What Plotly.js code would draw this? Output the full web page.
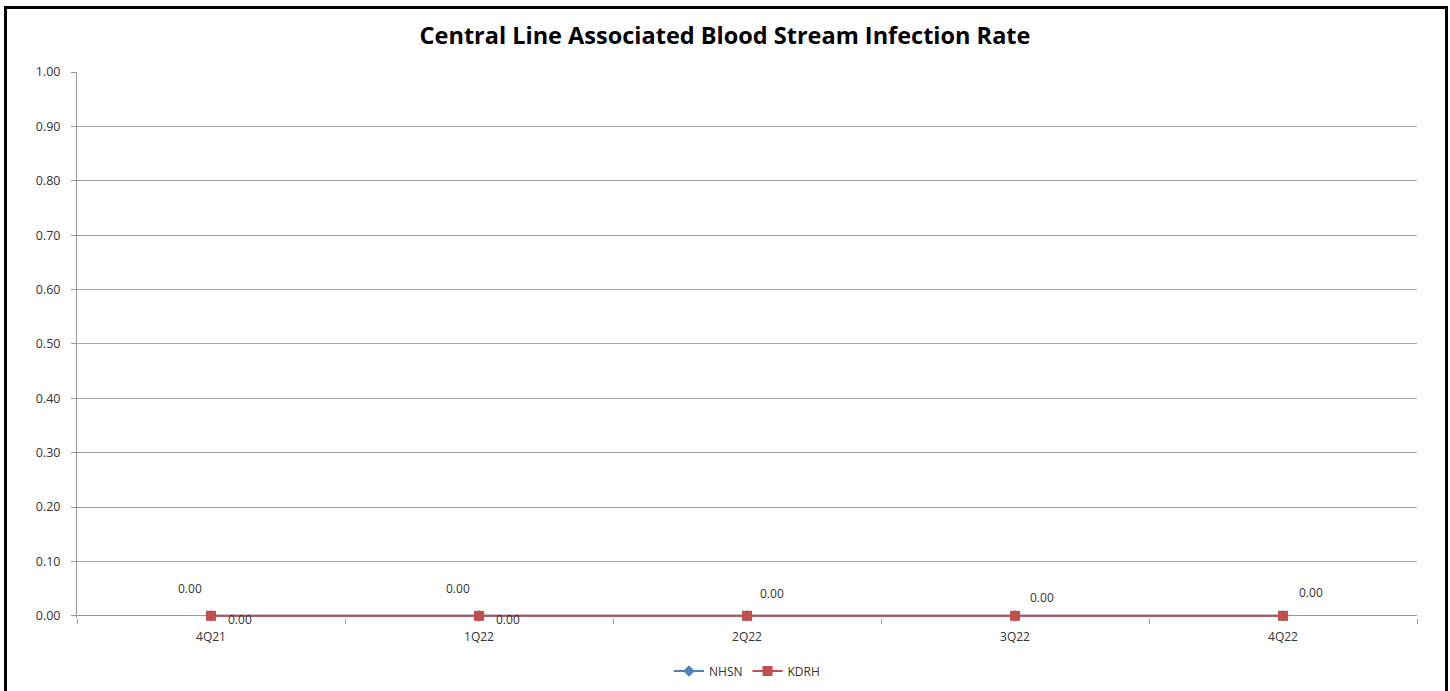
<!DOCTYPE html>
<html><head><meta charset="utf-8">
<script src="https://cdn.plot.ly/plotly-3.0.1.min.js"></script>
<style>
html,body{margin:0;padding:0;background:#fff;}
#wrap{position:relative;width:1450px;height:691px;overflow:hidden;}
#chart{position:absolute;left:0;top:0;width:1450px;height:691px;}
#frame{position:absolute;left:4px;top:6px;width:1438px;height:700px;border:3px solid #000;pointer-events:none;}
</style></head>
<body><div id="wrap"><div id="chart"></div><div id="frame"></div></div>
<script>
const quarters = ["4Q21","1Q22","2Q22","3Q22","4Q22"];
const nhsn = [0,0,0,0,0];
const kdrh = [0,0,0,0,0];
const yTicks = [0,0.1,0.2,0.3,0.4,0.5,0.6,0.7,0.8,0.9,1.0];

// label offsets (style, px)
const nhsnShift = [[-21,27],[-21,27],[25,22],[27,18],[28,23]];
const kdrhShift = [[29,-4],[29,-4],null,null,null];
const FONT = '"Open Sans", "Noto Sans", sans-serif';

const annotations = [];
quarters.forEach((q,i)=>{
  const s = nhsnShift[i];
  if (s) annotations.push({x:q,y:nhsn[i],xref:'x',yref:'y',text:nhsn[i].toFixed(2),showarrow:false,xshift:s[0],yshift:s[1],font:{family:FONT,size:12,color:'#333'}});
  const k = kdrhShift[i];
  if (k) annotations.push({x:q,y:kdrh[i],xref:'x',yref:'y',text:kdrh[i].toFixed(2),showarrow:false,xshift:k[0],yshift:k[1],font:{family:FONT,size:12,color:'#333'}});
});

const traces = [
  {x:quarters,y:nhsn,name:'NHSN',type:'scatter',mode:'lines+markers',cliponaxis:false,
   line:{color:'#4F81BD',width:2},marker:{symbol:'diamond',size:9,color:'#4F81BD'}},
  {x:quarters,y:kdrh,name:'KDRH',type:'scatter',mode:'lines+markers',cliponaxis:false,
   line:{color:'#C0504D',width:2},marker:{symbol:'square',size:10,color:'#C0504D'}}
];

const layout = {
  width:1450,height:691,
  margin:{l:77,r:33,t:72,b:72.8},
  paper_bgcolor:'#fff',plot_bgcolor:'#fff',
  font:{family:FONT,size:12,color:'#333'},
  title:{text:'<b>Central Line Associated Blood Stream Infection Rate</b>',x:0.5,xanchor:'center',
         yref:'container',y:1-36/691,yanchor:'middle',
         font:{family:FONT,size:23.5,color:'#000'}},
  xaxis:{type:'category',categoryarray:quarters,range:[-0.5,4.5],tickson:'boundaries',layer:'below traces',
         showgrid:false,showline:false,ticks:'outside',ticklen:5,tickcolor:'#999',
         ticklabelstandoff:10,tickfont:{size:12,color:'#333'},zeroline:false,fixedrange:true,automargin:false},
  yaxis:{range:[-0.004,1],tickvals:yTicks,ticktext:yTicks.map(v=>v.toFixed(2)),showgrid:true,gridcolor:'#A6A6A6',gridwidth:1,
         layer:'below traces',showline:true,linecolor:'#999',linewidth:1,ticks:'outside',ticklen:5,tickcolor:'#999',
         ticklabelstandoff:8,tickfont:{size:12.5,color:'#333'},zeroline:true,zerolinecolor:'#999',zerolinewidth:1,
         fixedrange:true,automargin:false},
  showlegend:true,
  legend:{orientation:'h',x:0.5,xanchor:'center',yref:'container',y:1-671/691,yanchor:'middle',
          font:{size:12,color:'#333'},itemwidth:30},
  annotations:annotations
};
Plotly.newPlot('chart',traces,layout,{displayModeBar:false,staticPlot:true});
</script></body></html>
